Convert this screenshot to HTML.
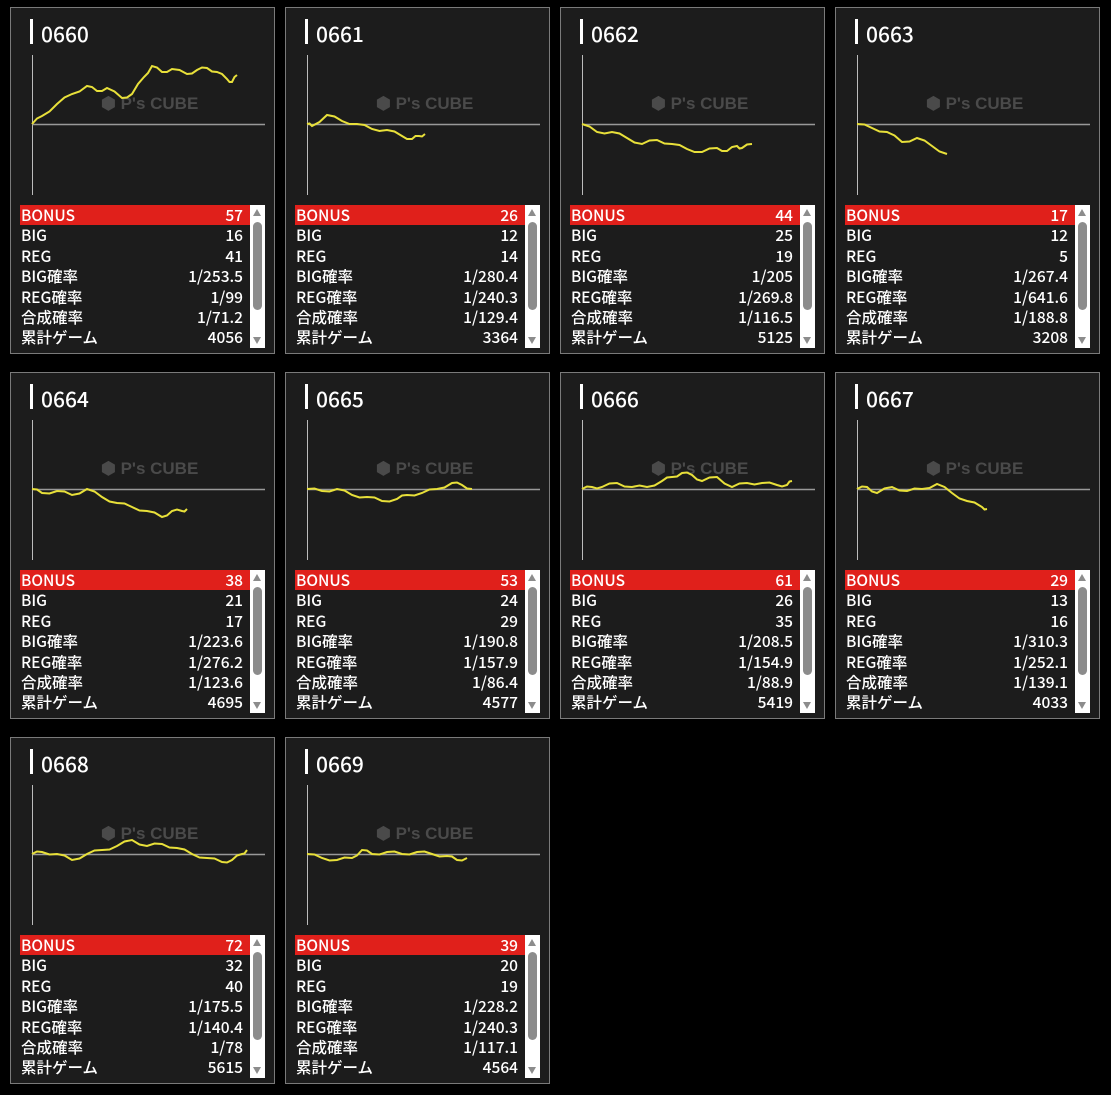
<!DOCTYPE html>
<html><head><meta charset="utf-8"><style>
body{margin:0;background:#000;width:1111px;height:1095px;overflow:hidden;font-family:"Noto Sans CJK JP","Liberation Sans",sans-serif;}
.card{position:absolute;width:263px;height:345px;background:#1c1c1c;border:1px solid #7a7a7a;}
.bar{position:absolute;left:19px;top:11px;width:3px;height:25px;background:#fff;}
.title{position:absolute;left:30px;top:12px;font-size:21px;color:#fff;line-height:28px;font-weight:500;}
svg{position:absolute;left:0;top:0;}
.tbl{position:absolute;left:9px;top:197px;width:230px;}
.row{height:20.4px;line-height:20.4px;font-size:15.5px;font-weight:500;color:#fff;display:flex;justify-content:space-between;padding:0 7px 0 1px;overflow:hidden;}
.row.b{background:#e0201b;}
.sb{position:absolute;left:239px;top:197px;width:15px;height:143px;background:#fff;}
.th{position:absolute;left:3px;top:17px;width:9px;height:88px;background:#8c8c8c;border-radius:5px;}
.au{position:absolute;left:3px;top:4px;width:0;height:0;border-left:4.5px solid transparent;border-right:4.5px solid transparent;border-bottom:7px solid #8c8c8c;}
.ad{position:absolute;left:3px;bottom:4px;width:0;height:0;border-left:4.5px solid transparent;border-right:4.5px solid transparent;border-top:7px solid #8c8c8c;}
.wm{position:absolute;left:90px;top:86px;color:#4a4a4a;font-weight:bold;font-size:17px;font-family:"Liberation Sans",sans-serif;}
</style></head><body>
<div id="root"></div>
<script>
var D=[
["0660",[57,16,41,"1/253.5","1/99","1/71.2",4056],[[0,0],[10,-8],[25,-20],[40,-30],[55,-38],[65,-33],[75,-36],[90,-26],[100,-30],[112,-47],[120,-58],[130,-52],[140,-55],[155,-50],[165,-54],[175,-56],[185,-52],[195,-45],[200,-42],[205,-49]]],
["0661",[26,12,14,"1/280.4","1/240.3","1/129.4",3364],[[0,0],[5,2],[20,-9],[35,-3],[50,0],[65,5],[80,6],[95,12],[105,15],[112,12],[118,10]]],
["0662",[44,25,19,"1/205","1/269.8","1/116.5",5125],[[0,0],[15,8],[30,8],[45,14],[60,20],[75,16],[90,20],[105,25],[120,28],[135,24],[145,27],[155,22],[160,24],[170,20]]],
["0663",[17,12,5,"1/267.4","1/641.6","1/188.8",3208],[[0,0],[15,4],[30,8],[45,18],[60,14],[75,22],[90,30]]],
["0664",[38,21,17,"1/223.6","1/276.2","1/123.6",4695],[[0,0],[10,4],[25,2],[40,6],[55,0],[70,8],[85,14],[100,18],[115,22],[130,28],[140,22],[150,22],[155,20]]],
["0665",[53,24,29,"1/190.8","1/157.9","1/86.4",4577],[[0,0],[15,2],[30,0],[45,6],[60,8],[75,12],[90,10],[100,6],[115,4],[130,0],[145,-6],[155,-4],[165,0]]],
["0666",[61,26,35,"1/208.5","1/154.9","1/88.9",5419],[[0,0],[10,-2],[20,-2],[35,-6],[50,-2],[65,-2],[80,-8],[90,-12],[100,-16],[110,-14],[120,-8],[135,-12],[150,-2],[165,-6],[180,-6],[195,-4],[205,-4],[210,-8]]],
["0667",[29,13,16,"1/310.3","1/252.1","1/139.1",4033],[[0,0],[10,-2],[20,4],[35,-2],[50,2],[65,0],[80,-5],[95,4],[110,12],[125,18],[130,20]]],
["0668",[72,32,40,"1/175.5","1/140.4","1/78",5615],[[0,0],[10,-2],[25,0],[40,6],[55,0],[70,-4],[85,-8],[100,-14],[115,-8],[130,-10],[145,-6],[160,0],[175,4],[190,8],[200,6],[210,0],[215,-4]]],
["0669",[39,20,19,"1/228.2","1/240.3","1/117.1",4564],[[0,0],[15,4],[30,6],[45,4],[55,-4],[65,0],[80,-2],[95,0],[110,-2],[125,0],[140,2],[150,6],[160,4]]]
];
var L=["BONUS","BIG","REG","BIG確率","REG確率","合成確率","累計ゲーム"];
var h="";
D.forEach(function(d,i){
 var x=10+(i%4)*275,y=7+Math.floor(i/4)*365;
 var pts=[];var p=d[2];
 for(var k=0;k<p.length;k++){
  pts.push((21+p[k][0])+","+(116+p[k][1]));
  if(k<p.length-1){var mx=(p[k][0]+p[k+1][0])/2,my=(p[k][1]+p[k+1][1])/2+((k%2)?1.5:-1.5);pts.push((21+mx)+","+(116+my));}
 }
 h+='<div class="card" style="left:'+x+'px;top:'+y+'px"><div class="bar"></div><div class="title">'+d[0]+'</div>';
 h+='<div class="wm">⬢ P\'s CUBE</div>';
 h+='<svg width="263" height="200"><line x1="21.5" y1="47" x2="21.5" y2="187" stroke="#bbb" stroke-width="1"/><line x1="21" y1="116.5" x2="254" y2="116.5" stroke="#999" stroke-width="1.5"/><polyline points="'+pts.join(" ")+'" fill="none" stroke="#e8e03a" stroke-width="2"/></svg>';
 h+='<div class="tbl">';
 for(var r=0;r<7;r++)h+='<div class="row'+(r==0?' b':'')+'"><span>'+L[r]+'</span><span>'+d[1][r]+'</span></div>';
 h+='</div><div class="sb"><div class="au"></div><div class="th"></div><div class="ad"></div></div></div>';
});
document.getElementById("root").innerHTML=h;
</script>
</body></html>
